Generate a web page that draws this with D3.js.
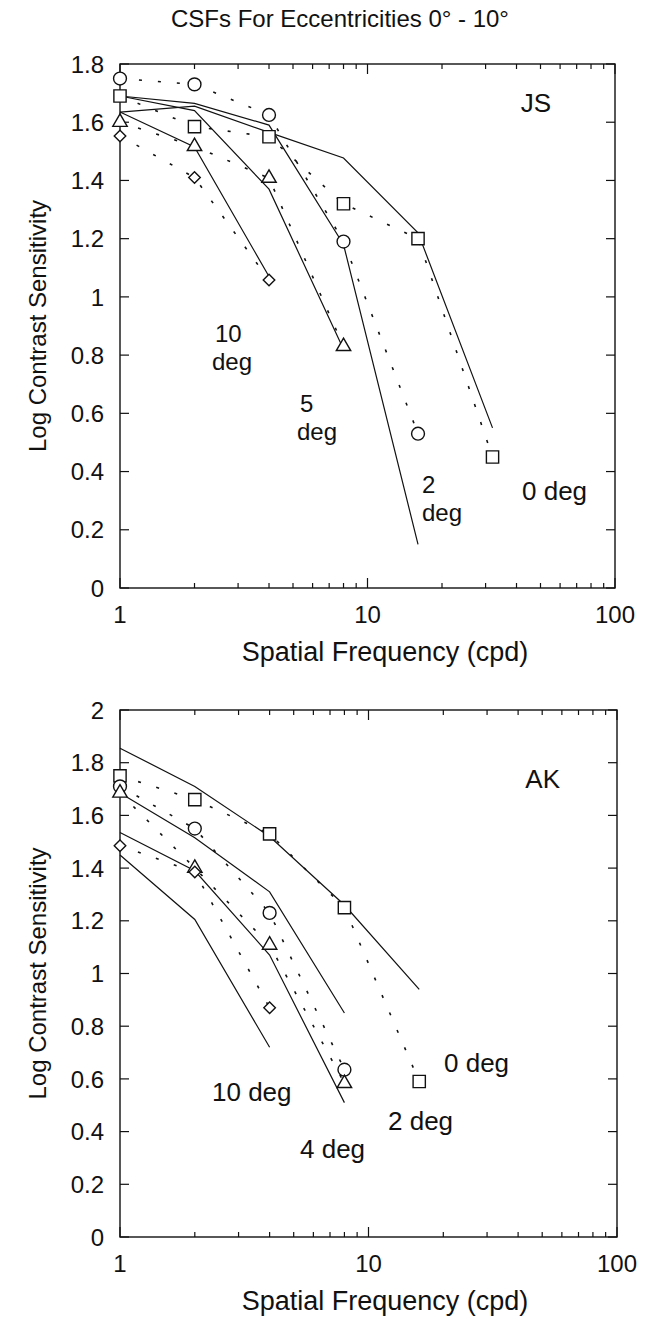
<!DOCTYPE html>
<html>
<head>
<meta charset="utf-8">
<script src="https://cdn.jsdelivr.net/npm/d3@7"></script>
<style>
  body { margin: 0; background: #fff; }
  text { font-family: "Liberation Sans", Arial, sans-serif; fill: #111; }
</style>
</head>
<body>
<div id="app"></div>
<script>
// spatial frequencies (cpd) of the measured points
const freqs = [1, 2, 4, 8, 16, 32];

// subject JS: measured log CS (dotted) and model fits (solid)
const jsDeg0 = [1.69, 1.585, 1.55, 1.32, 1.20, 0.45];
const jsDeg2 = [1.75, 1.73, 1.625, 1.19, 0.53];
const jsDeg5 = [1.60, 1.517, 1.408, 0.83];
const jsDeg10 = [1.553, 1.41, 1.058];
const jsFit0 = [1.635, 1.655, 1.565, 1.477, 1.22, 0.55];
const jsFit2 = [1.69, 1.665, 1.59, 1.18, 0.15];
const jsFit5 = [1.69, 1.64, 1.37, 0.82];
const jsFit10 = [1.635, 1.515, 1.07];

// subject AK
const akDeg0 = [1.75, 1.66, 1.53, 1.25, 0.59];
const akDeg2 = [1.71, 1.55, 1.23, 0.635];
const akDeg4 = [1.685, 1.40, 1.108, 0.583];
const akDeg10 = [1.485, 1.385, 0.87];
const akFit0 = [1.855, 1.71, 1.52, 1.26, 0.94];
const akFit2 = [1.685, 1.515, 1.31, 0.85];
const akFit4 = [1.535, 1.39, 1.07, 0.51];
const akFit10 = [1.45, 1.205, 0.72];

const xTicks = [1, 10, 100];
const jsYTicks = [0, 0.2, 0.4, 0.6, 0.8, 1, 1.2, 1.4, 1.6, 1.8];
const akYTicks = [0, 0.2, 0.4, 0.6, 0.8, 1, 1.2, 1.4, 1.6, 1.8, 2];

const pts = vals => vals.map((v, i) => ({ f: freqs[i], v: v }));
const diamond = d3.symbolDiamond2 || d3.symbolDiamond;

const svg = d3.select("#app").append("svg")
    .attr("width", 646)
    .attr("height", 1326);

svg.append("text")
    .attr("x", 340)
    .attr("y", 27)
    .attr("text-anchor", "middle")
    .style("font-size", "24px")
    .text("CSFs For Eccentricities 0\u00b0 - 10\u00b0");

function drawPanel(p) {
    const x = d3.scaleLog().domain([1, 100]).range([p.left, p.right]);
    const y = d3.scaleLinear().domain([0, p.yMax]).range([p.bottom, p.top]);
    const g = svg.append("g");

    const minor = d3.range(2, 10).concat(d3.range(20, 100, 10));

    // frame
    g.append("rect")
        .attr("x", p.left).attr("y", p.top)
        .attr("width", p.right - p.left).attr("height", p.bottom - p.top)
        .attr("fill", "none").attr("stroke", "#111").attr("stroke-width", 1.4);

    // inward ticks on all four sides
    const tickLines = [];
    xTicks.forEach(t => tickLines.push([x(t), p.bottom, x(t), p.bottom - 10], [x(t), p.top, x(t), p.top + 10]));
    minor.forEach(t => tickLines.push([x(t), p.bottom, x(t), p.bottom - 5], [x(t), p.top, x(t), p.top + 5]));
    p.yTicks.forEach(t => tickLines.push([p.left, y(t), p.left + 9, y(t)], [p.right, y(t), p.right - 9, y(t)]));
    g.selectAll("line.tick")
        .data(tickLines)
        .join("line")
        .attr("class", "tick")
        .attr("x1", d => d[0]).attr("y1", d => d[1])
        .attr("x2", d => d[2]).attr("y2", d => d[3])
        .attr("stroke", "#111").attr("stroke-width", 1.2);

    // tick labels
    g.selectAll("text.xl")
        .data(xTicks)
        .join("text")
        .attr("class", "xl")
        .attr("x", d => x(d))
        .attr("y", p.bottom + 35)
        .attr("text-anchor", "middle")
        .style("font-size", "24px")
        .text(d => d);

    g.selectAll("text.yl")
        .data(p.yTicks)
        .join("text")
        .attr("class", "yl")
        .attr("x", p.left - 16)
        .attr("y", d => y(d))
        .attr("dy", "0.36em")
        .attr("text-anchor", "end")
        .style("font-size", "24px")
        .text(d => String(+d.toFixed(1)));

    // axis titles
    g.append("text")
        .attr("x", 385)
        .attr("y", p.bottom + 73)
        .attr("text-anchor", "middle")
        .style("font-size", "27px")
        .text("Spatial Frequency (cpd)");

    g.append("text")
        .attr("transform", `translate(46,${(p.top + p.bottom) / 2}) rotate(-90)`)
        .attr("text-anchor", "middle")
        .style("font-size", "24px")
        .text("Log Contrast Sensitivity");

    const line = d3.line().x(d => x(d.f)).y(d => y(d.v));

    // model fits
    g.selectAll("path.fit")
        .data(p.fits)
        .join("path")
        .attr("class", "fit")
        .attr("d", d => line(pts(d)))
        .attr("fill", "none")
        .attr("stroke", "#111")
        .attr("stroke-width", 1.2);

    // measured data, dotted
    g.selectAll("path.obs")
        .data(p.series)
        .join("path")
        .attr("class", "obs")
        .attr("d", d => line(pts(d.vals)))
        .attr("fill", "none")
        .attr("stroke", "#111")
        .attr("stroke-width", 1.6)
        .attr("stroke-dasharray", "3,16");

    // markers
    p.series.forEach(s => {
        g.selectAll(null)
            .data(pts(s.vals))
            .join("path")
            .attr("transform", d => `translate(${x(d.f)},${y(d.v)})`)
            .attr("d", d3.symbol().type(s.shape).size(s.size))
            .attr("fill", "#fff")
            .attr("stroke", "#111")
            .attr("stroke-width", 1.4);
    });

    // curve labels
    p.labels.forEach(l => {
        g.append("text")
            .attr("x", l[1]).attr("y", l[2])
            .attr("text-anchor", l[3] || "start")
            .style("font-size", (l[4] || 26) + "px")
            .text(l[0]);
    });
}

drawPanel({
    left: 120, right: 615, top: 64, bottom: 588, yMax: 1.8, yTicks: jsYTicks,
    fits: [jsFit0, jsFit2, jsFit5, jsFit10],
    series: [
        { vals: jsDeg0, shape: d3.symbolSquare, size: 150 },
        { vals: jsDeg2, shape: d3.symbolCircle, size: 130 },
        { vals: jsDeg5, shape: d3.symbolTriangle, size: 90 },
        { vals: jsDeg10, shape: diamond, size: 85 }
    ],
    labels: [
        ["JS", 551, 112, "end"],
        ["10", 215, 342, "start", 24], ["deg", 212, 370, "start", 24],
        ["5", 300, 412, "start", 24], ["deg", 297, 440, "start", 24],
        ["2", 422, 493, "start", 24], ["deg", 422, 521, "start", 24],
        ["0 deg", 522, 500]
    ]
});

drawPanel({
    left: 120, right: 617, top: 710, bottom: 1237, yMax: 2, yTicks: akYTicks,
    fits: [akFit0, akFit2, akFit4, akFit10],
    series: [
        { vals: akDeg0, shape: d3.symbolSquare, size: 150 },
        { vals: akDeg2, shape: d3.symbolCircle, size: 130 },
        { vals: akDeg4, shape: d3.symbolTriangle, size: 90 },
        { vals: akDeg10, shape: diamond, size: 85 }
    ],
    labels: [
        ["AK", 560, 788, "end"],
        ["0 deg", 444, 1072],
        ["2 deg", 388, 1130],
        ["4 deg", 300, 1158],
        ["10 deg", 212, 1101]
    ]
});
</script>
</body>
</html>
